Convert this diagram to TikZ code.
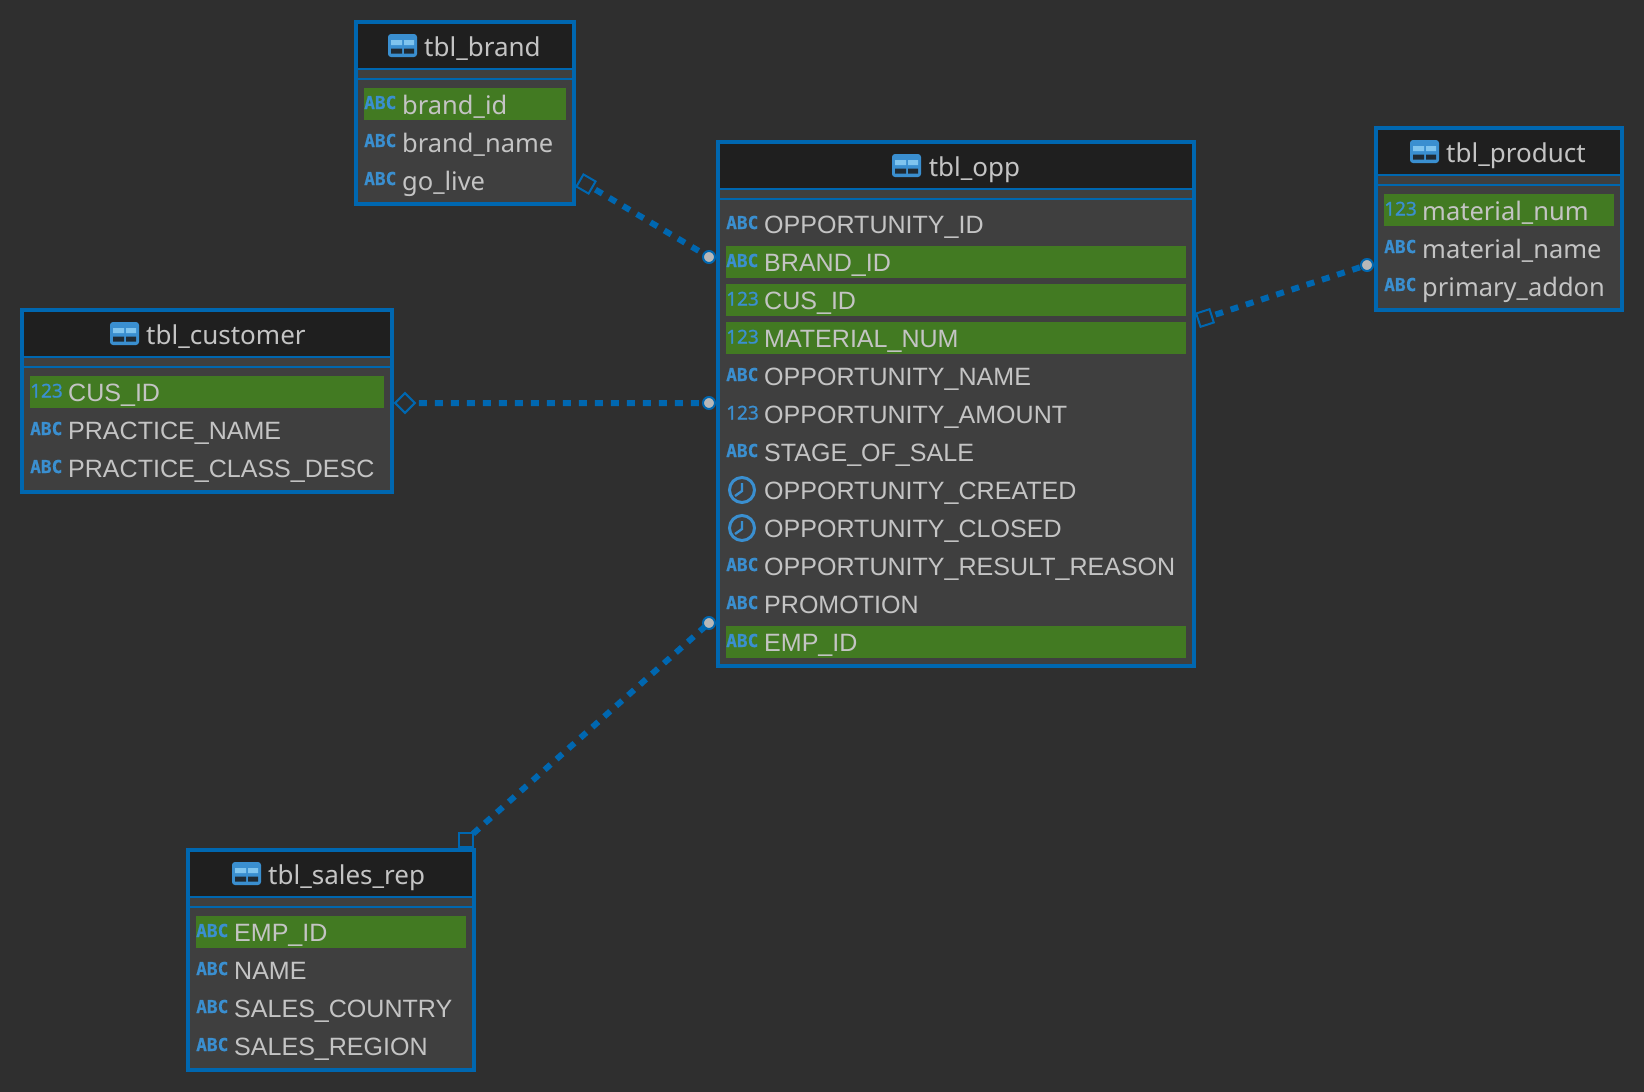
\documentclass[tikz,border=0pt]{standalone}
\usepackage{fontspec}
\setmainfont{Noto Sans}
\newfontfamily\tagfont[BoldFeatures={FakeBold=0.6}]{DejaVu Sans Mono}
\newfontfamily\capfont{Liberation Sans}
\newfontfamily\numfont[FakeBold=1]{Noto Sans}
\definecolor{erbg}{HTML}{2F2F2F}
\definecolor{erbody}{HTML}{3F3F3F}
\definecolor{erhead}{HTML}{1F1F1F}
\definecolor{erblue}{HTML}{0067B0}
\definecolor{ergreen}{HTML}{427A22}
\definecolor{ertext}{HTML}{C4C4C4}
\definecolor{erdot}{HTML}{B8B8B8}
\definecolor{ericon}{HTML}{3A8FD0}
\definecolor{iconlight}{HTML}{7FC4EE}
\definecolor{icondark}{HTML}{1F2A33}
\tikzset{
  tblbox/.style={draw=erblue,line width=4pt,fill=erbody,anchor=north west,inner sep=0,outer sep=0},
  tblhead/.style={fill=erhead,anchor=north west,inner sep=0,outer sep=0,minimum height=44pt},
  tblline/.style={draw=erblue,line width=2pt},
  tbltitle/.style={text=ertext,anchor=base west,inner sep=0,font=\fontsize{26}{30}\selectfont},
  coltext/.style={text=ertext,anchor=base west,inner sep=0,font=\fontsize{25.5}{30}\selectfont},
  captext/.style={text=ertext,anchor=base west,inner sep=0,font=\capfont\fontsize{25.05}{30}\selectfont},
  pkbar/.style={fill=ergreen,anchor=north west,inner sep=0,outer sep=0,minimum height=32pt},
  abc/.style={text=ericon,anchor=base west,inner sep=0,font=\tagfont\bfseries\fontsize{17.8}{20}\selectfont,node contents=ABC},
  num/.style={text=ericon,anchor=base west,inner sep=0,yshift=-.5pt,font=\numfont\fontsize{19}{20}\selectfont,node contents=123},
  relline/.style={draw=erblue,line width=6pt,dash pattern=on 8pt off 8pt},
  relsq/.style={draw=erblue,line width=2pt,rectangle,inner sep=0,outer sep=0,minimum size=14pt},
  reldot/.style={draw=erblue,fill=erdot,line width=2pt,circle,inner sep=0,outer sep=0,minimum size=12pt},
  tblicon/.pic={
    \fill[ericon,rounded corners=3pt] (-14.5,-11.5) rectangle (14.5,11.5);
    \fill[iconlight] (-11.5,-5.3) rectangle (-.5,-.3) (1.5,-5.3) rectangle (11.5,-.3);
    \fill[icondark] (-11.5,3) rectangle (-.5,8) (1.5,3) rectangle (11.5,8);
  },
  clockicon/.pic={
    \draw[ericon,line width=3pt] (0,0) circle (12.5pt);
    \draw[ericon,line width=2.4pt] (0,-7) -- (0,1) -- (-7,6);
  },
}
\begin{document}
\begin{tikzpicture}[x=1pt,y=-1pt]
    \fill[erbg] (0,0) rectangle (1644,1092);
    \useasboundingbox (0,0) rectangle (1644,1092);

    % tbl_brand
    \node[tblbox,minimum width=218pt,minimum height=182pt] (brand) at (356,22) {};
    \node[tblhead,minimum width=214pt] (brandhead) at (358,24) {};
    \draw[tblline] (358,69) -- (572,69) (358,79) -- (572,79);
    \pic at (402.5,45.5) {tblicon};
    \node[tbltitle] (brandtitle) at (424,56) {tbl\_brand};
    \node[pkbar,minimum width=202pt] (brandpk) at (364,88) {};
    \foreach \y/\k/\t in {88/abc/brand\_id,126/abc/brand\_name,164/abc/go\_live} {
      \node (brandtag\y) at (364,\y+21) [\k];
      \node[coltext] (brandcol\y) at (402,\y+26) {\t};
    }

    % tbl_opp
    \node[tblbox,minimum width=476pt,minimum height=524pt] (opp) at (718,142) {};
    \node[tblhead,minimum width=472pt] (opphead) at (720,144) {};
    \draw[tblline] (720,189) -- (1192,189) (720,199) -- (1192,199);
    \pic at (906.5,165.5) {tblicon};
    \node[tbltitle] (opptitle) at (928.6,176) {tbl\_opp};
    \foreach \y in {246,284,322,626} {
      \node[pkbar,minimum width=460pt] (opppk\y) at (726,\y) {};
    }
    \foreach \y/\k/\t in {208/abc/OPPORTUNITY\_ID,246/abc/BRAND\_ID,284/num/CUS\_ID,322/num/MATERIAL\_NUM,
                          360/abc/OPPORTUNITY\_NAME,398/num/OPPORTUNITY\_AMOUNT,436/abc/STAGE\_OF\_SALE,
                          550/abc/OPPORTUNITY\_RESULT\_REASON,588/abc/PROMOTION,626/abc/EMP\_ID} {
      \node (opptag\y) at (726,\y+21) [\k];
      \node[captext] (oppcol\y) at (764,\y+25) {\t};
    }
    \foreach \y/\t in {474/OPPORTUNITY\_CREATED,512/OPPORTUNITY\_CLOSED} {
      \pic at (742,\y+16) {clockicon};
      \node[captext] (oppcol\y) at (764,\y+25) {\t};
    }

    % tbl_product
    \node[tblbox,minimum width=246pt,minimum height=182pt] (product) at (1376,128) {};
    \node[tblhead,minimum width=242pt] (producthead) at (1378,130) {};
    \draw[tblline] (1378,175) -- (1620,175) (1378,185) -- (1620,185);
    \pic at (1424.5,151.5) {tblicon};
    \node[tbltitle] (producttitle) at (1446,162) {tbl\_product};
    \node[pkbar,minimum width=230pt] (productpk) at (1384,194) {};
    \foreach \y/\k/\t in {194/num/material\_num,232/abc/material\_name,270/abc/primary\_addon} {
      \node (producttag\y) at (1384,\y+21) [\k];
      \node[coltext] (productcol\y) at (1422,\y+26) {\t};
    }

    % tbl_customer
    \node[tblbox,minimum width=370pt,minimum height=182pt] (customer) at (22,310) {};
    \node[tblhead,minimum width=366pt] (customerhead) at (24,312) {};
    \draw[tblline] (24,357) -- (390,357) (24,367) -- (390,367);
    \pic at (124.5,333.5) {tblicon};
    \node[tbltitle] (customertitle) at (146,344) {tbl\_customer};
    \node[pkbar,minimum width=354pt] (customerpk) at (30,376) {};
    \foreach \y/\k/\t in {376/num/CUS\_ID,414/abc/PRACTICE\_NAME,452/abc/PRACTICE\_CLASS\_DESC} {
      \node (customertag\y) at (30,\y+21) [\k];
      \node[captext] (customercol\y) at (68,\y+25) {\t};
    }

    % tbl_sales_rep
    \node[tblbox,minimum width=286pt,minimum height=220pt] (sales) at (188,850) {};
    \node[tblhead,minimum width=282pt] (saleshead) at (190,852) {};
    \draw[tblline] (190,897) -- (472,897) (190,907) -- (472,907);
    \pic at (246.5,873.5) {tblicon};
    \node[tbltitle] (salestitle) at (268,884) {tbl\_sales\_rep};
    \node[pkbar,minimum width=270pt] (salespk) at (196,916) {};
    \foreach \y/\k/\t in {916/abc/EMP\_ID,954/abc/NAME,992/abc/SALES\_COUNTRY,1030/abc/SALES\_REGION} {
      \node (salestag\y) at (196,\y+21) [\k];
      \node[captext] (salescol\y) at (234,\y+25) {\t};
    }

    % relations
    \node[relsq,rotate=-30] (brandend) at (586,184) {};
    \node[relsq,rotate=45] (customerend) at (405,403) {};
    \node[relsq,rotate=18] (productend) at (1205,318) {};
    \node[relsq] (salesend) at (466,840) {};
    \node[reldot] (oppbrand) at (709,257) {};
    \node[reldot] (oppcustomer) at (709,403) {};
    \node[reldot] (oppproduct) at (1367,265) {};
    \node[reldot] (oppsales) at (709,623) {};
    \draw[relline,shorten <=4pt] (brandend) -- (oppbrand);
    \draw[relline,shorten <=4pt] (customerend) -- (oppcustomer);
    \draw[relline,shorten <=4pt] (productend) -- (oppproduct);
    \draw[relline] (salesend) -- (oppsales);
\end{tikzpicture}
\end{document}
